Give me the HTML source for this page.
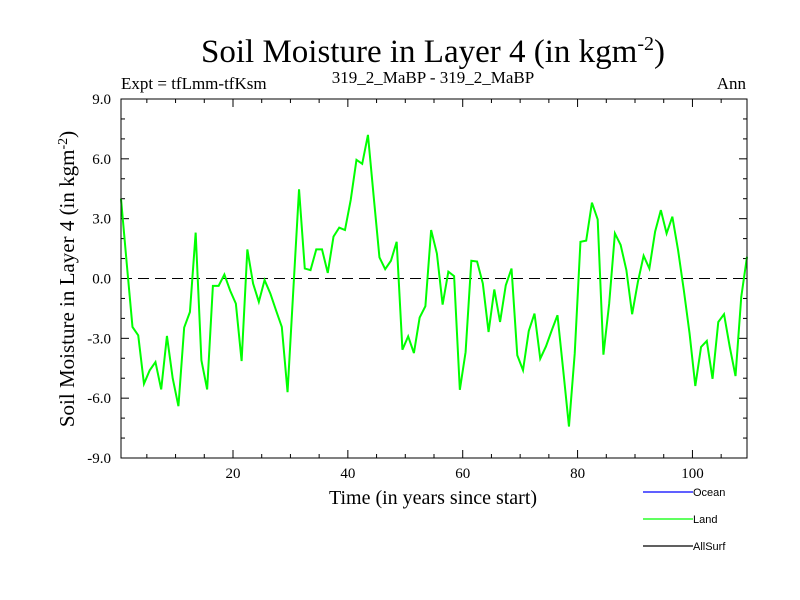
<!DOCTYPE html>
<html><head><meta charset="utf-8"><style>
body{margin:0;background:#fff;}
svg{display:block;font-family:"Liberation Serif",serif;}
</style></head><body>
<svg id="chart" width="800" height="600" viewBox="0 0 800 600">
<rect width="800" height="600" fill="#fff"/>
<text x="433" y="62" font-size="33" text-anchor="middle">Soil Moisture in Layer 4 (in kgm<tspan dy="-12" font-size="20">-2</tspan><tspan dy="12">)</tspan></text>
<text x="121" y="89" font-size="17">Expt = tfLmm-tfKsm</text>
<text x="433" y="83" font-size="17" text-anchor="middle">319_2_MaBP - 319_2_MaBP</text>
<text x="746" y="89" font-size="17" text-anchor="end">Ann</text>
<g id="axes"></g>
<g id="series"></g>
<rect x="121" y="99" width="626" height="359" fill="none" stroke="#000" stroke-width="1"/>
<text x="433" y="504" font-size="20" text-anchor="middle">Time (in years since start)</text>
<text transform="translate(74,279) rotate(-90)" font-size="21" text-anchor="middle">Soil Moisture in Layer 4 (in kgm<tspan dy="-7" font-size="14">-2</tspan><tspan dy="7">)</tspan></text>
<g font-family="Liberation Sans, sans-serif" font-size="11">
<line x1="643" y1="492" x2="693" y2="492" stroke="#0000ff" stroke-width="1.2"/>
<text x="693" y="496">Ocean</text>
<line x1="643" y1="519" x2="693" y2="519" stroke="#00ff00" stroke-width="1.2"/>
<text x="693" y="523">Land</text>
<line x1="643" y1="546" x2="693" y2="546" stroke="#000" stroke-width="1.2"/>
<text x="693" y="550">AllSurf</text>
</g>
</svg>
<script>
const landValues = [4.0,0.75,-2.43,-2.85,-5.28,-4.6,-4.19,-5.56,-2.88,-5.0,
-6.4,-2.46,-1.68,2.3,-4.1,-5.56,-0.37,-0.37,0.2,-0.6,
-1.26,-4.14,1.46,-0.25,-1.17,-0.08,-0.75,-1.6,-2.43,-5.7,
-0.6,4.47,0.5,0.42,1.46,1.46,0.28,2.1,2.55,2.43,
3.94,5.95,5.75,7.2,4.1,1.06,0.47,0.89,1.84,-3.57,
-2.9,-3.74,-1.96,-1.39,2.43,1.26,-1.31,0.34,0.12,-5.58,
-3.69,0.89,0.85,-0.25,-2.68,-0.55,-2.18,-0.34,0.5,-3.85,
-4.6,-2.63,-1.76,-4.02,-3.4,-2.6,-1.84,-4.6,-7.42,-3.77,
1.84,1.9,3.8,2.96,-3.82,-1.26,2.26,1.68,0.42,-1.79,
-0.17,1.14,0.5,2.35,3.43,2.26,3.1,1.42,-0.59,-2.76,
-5.39,-3.43,-3.13,-5.03,-2.18,-1.79,-3.43,-4.89,-0.92,1.09];
const startYear = 0.5;
const xTickLabels = ["20","40","60","80","100"];
const yTickLabels = ["-9.0","-6.0","-3.0","0.0","3.0","6.0","9.0"];

const L=121,R=747,T=99,B=458;
const xMin=0.5,xMax=109.5,yMin=-9,yMax=9;
const xs=v=>L+(v-xMin)/(xMax-xMin)*(R-L);
const ys=v=>B-(v-yMin)/(yMax-yMin)*(B-T);
const NS="http://www.w3.org/2000/svg";
const axes=document.getElementById('axes');
function mk(tag,attrs,parent){const e=document.createElementNS(NS,tag);for(const k in attrs)e.setAttribute(k,attrs[k]);parent.appendChild(e);return e;}

for(let y=-9;y<=9;y+=1){
  const major=(y%3===0), len=major?8:4, py=ys(y);
  const t1=mk('line',{x1:L,y1:py,x2:L+len,y2:py,stroke:'#000','stroke-width':1},axes);
  
  
  const t2=mk('line',{x1:R,y1:py,x2:R-len,y2:py,stroke:'#000','stroke-width':1},axes);
  
  
}
yTickLabels.forEach(s=>{
  const t=mk('text',{x:111,y:ys(parseFloat(s))+5,'font-size':15,'text-anchor':'end'},axes);
  t.textContent=s;
  
  
});
for(let x=5;x<=105;x+=5){
  const major=(x%20===0), len=major?8:4, px=xs(x);
  const t1=mk('line',{x1:px,y1:B,x2:px,y2:B-len,stroke:'#000','stroke-width':1},axes);
  
  
  const t2=mk('line',{x1:px,y1:T,x2:px,y2:T+len,stroke:'#000','stroke-width':1},axes);
  
  
}
xTickLabels.forEach(s=>{
  const t=mk('text',{x:xs(parseFloat(s)),y:478,'font-size':15,'text-anchor':'middle'},axes);
  t.textContent=s;
  
  
});
const zero=mk('line',{x1:L,y1:ys(0),x2:R,y2:ys(0),stroke:'#000','stroke-width':1,'stroke-dasharray':'11,6'},axes);



const pts=landValues.map((v,i)=>xs(startYear+i).toFixed(2)+','+ys(v).toFixed(2)).join(' ');
const line=mk('polyline',{points:pts,fill:'none',stroke:'#00ff00','stroke-width':2,'stroke-linejoin':'miter'},document.getElementById('series'));


</script>
</body></html>
